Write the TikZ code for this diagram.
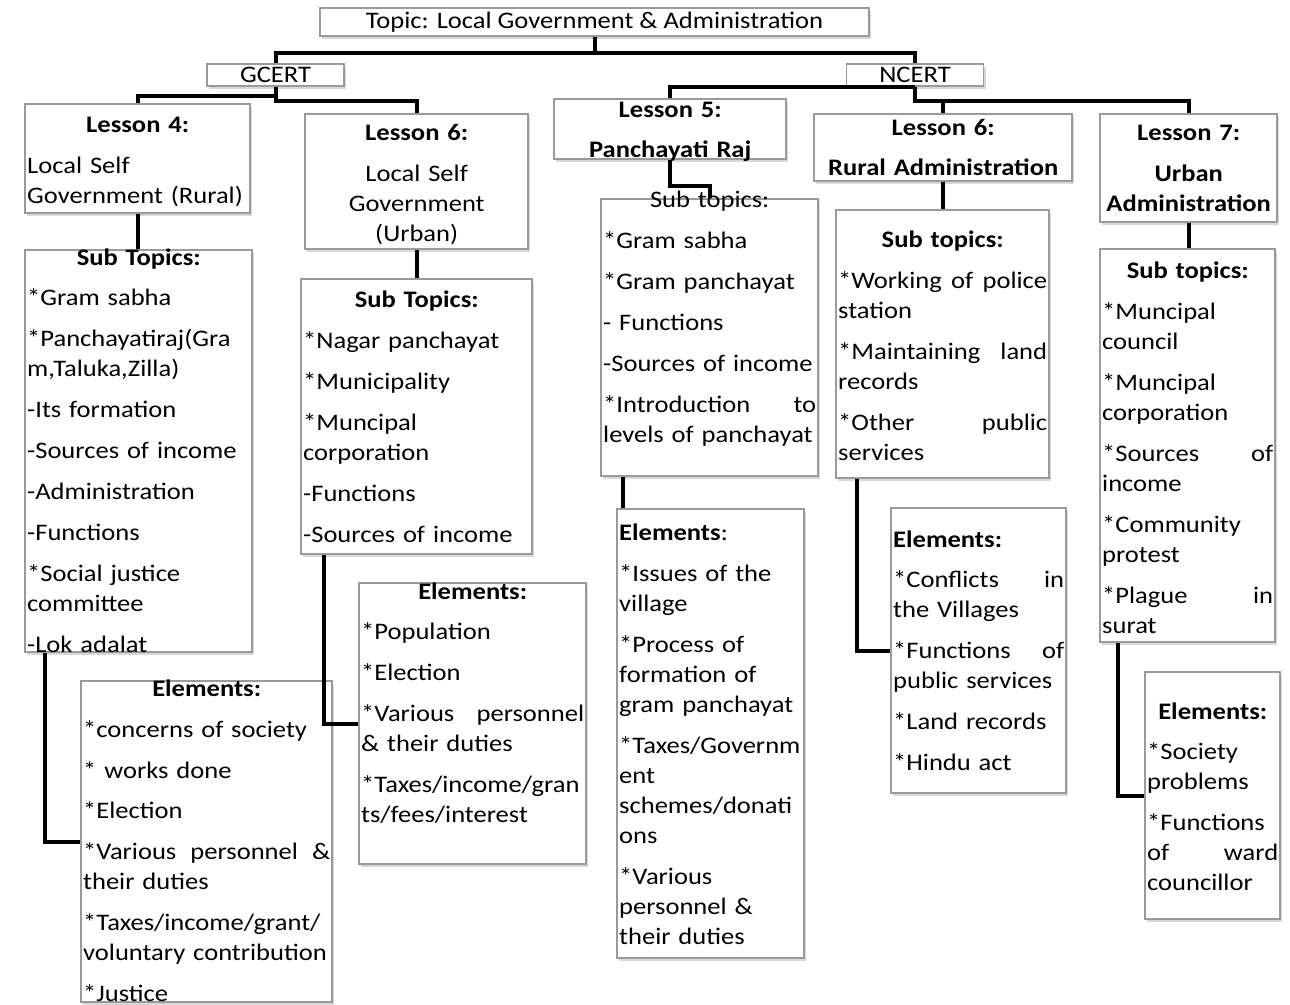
\documentclass[tikz,border=0pt]{standalone}
\usepackage{fontspec}
\setmainfont{Carlito}[FakeStretch=1.12]
\usetikzlibrary{positioning,shadows,calc}
\definecolor{ink}{HTML}{000000}
\definecolor{edge}{HTML}{9A9A9A}
\newcommand{\fs}{\fontsize{23.7}{30}\selectfont}
\newcommand{\hd}[1]{\makebox[\linewidth]{\bfseries #1}}
\newcommand{\jst}[1]{\makebox[\linewidth][s]{#1}}
% empty framed box from (x1,y1) to (x2,y2)
\newcommand{\panel}[5]{\node[box, minimum width={#4-#2}, minimum height={#5-#3}] (#1) at ({(#2+#4)/2},{(#3+#5)/2}) {};}

\begin{document}
\begin{tikzpicture}[
  x=1pt, y=-1pt,
  font=\fs,
  box/.style={draw=edge, fill=white, line width=1.1pt, inner sep=0pt,
    drop shadow={shadow xshift=2pt, shadow yshift=-2.5pt, opacity=0.3}},
  txt/.style={anchor=base west, inner sep=0pt, align=left, font=\fs},
  link/.style={draw=ink, line width=4pt}
]
\path[use as bounding box, fill=white] (0,0) rectangle (1290,1004);

% Top row
\node[box, minimum width=549, minimum height=28] (title) at (594.5,22) {Topic: Local Government \& Administration};
\node[box, minimum width=137, minimum height=22] (gc) at (275.5,75) {GCERT};
\node[box, minimum width=137, minimum height=22] (nc) at (915,75) {NCERT};

% Lessons
\panel{l4}{25}{104}{250}{213}
\panel{l6}{305}{114}{528}{249}
\panel{l5}{554}{99}{786}{159}
\panel{r6}{814}{114}{1072}{181}
\panel{l7}{1100}{114}{1277}{222}

% Sub topics
\panel{l4s}{25}{250}{252}{652}
\panel{l6s}{301}{279}{532}{554}
\panel{l5s}{601}{199}{818}{476}
\panel{r6s}{836}{210}{1049}{478}
\panel{l7s}{1100}{249}{1275}{642}

% Elements
\panel{l4e}{81}{681}{332}{1002}
\panel{l6e}{359}{583}{586}{864}
\panel{l5e}{617}{509}{804}{958}
\panel{r6e}{891}{508}{1066}{793}
\panel{l7e}{1145}{672}{1280}{919}

% Connectors
\draw[link] (title.south) -- ++(0,16) -| (gc.north);
\draw[link] (title.south) -- ++(0,16) -| (nc.north);
\draw[link] (gc.south) -- ++(0,9) -| (l4.north);
\draw[link] (gc.south) -- ++(0,14) -| (l6.north);
\draw[link] (nc.south) -| (l5.north);
\draw[link] (nc.south) -- ++(0,14) -| (r6.north);
\draw[link] (nc.south) -- ++(0,14) -| (l7.north);
\draw[link] (l4.south) -- (l4s.north -| l4.south);
\draw[link] (l6.south) -- (l6s.north -| l6.south);
\draw[link] (l5.south) -- ++(0,26) -| (l5s.north);
\draw[link] (r6.south) -- (r6s.north -| r6.south);
\draw[link] (l7.south) -- (l7s.north -| l7.south);
\coordinate (p4) at ([xshift=21pt]l4s.south west);
\coordinate (p6) at ([xshift=24pt]l6s.south west);
\coordinate (p5) at ([xshift=23pt]l5s.south west);
\coordinate (q6) at ([xshift=22pt]r6s.south west);
\coordinate (p7) at ([xshift=19pt]l7s.south west);
\draw[link] (p4) |- (l4e.west);
\draw[link] (p6) |- (l6e.west);
\draw[link] (p5) -- (p5 |- l5e.north);
\draw[link] (q6) |- (r6e.west);
\draw[link] (p7) |- (l7e.west);

% Texts: lessons
\node[txt, text width=221] (l4t) at (27,132) {\hd{Lesson 4:}\\[11pt] Local Self\\ Government (Rural)};
\node[txt, align=center, text width=219] (l6t) at (307,140) {\textbf{Lesson 6:}\\[11pt] Local Self\\ Government\\ (Urban)};
\node[txt, align=center, text width=228] (l5t) at (556,117) {\textbf{Lesson 5:}\\[10pt] \textbf{Panchayati Raj}};
\node[txt, align=center, text width=254] (r6t) at (816,135) {\textbf{Lesson 6:}\\[10pt] \textbf{Rural Administration}};
\node[txt, align=center, text width=173] (l7t) at (1102,140) {\textbf{Lesson 7:}\\[11pt] \textbf{Urban}\\ \textbf{Administration}};

% Texts: sub topics
\node[txt, text width=223] (l4st) at (27,265) {\hd{Sub Topics:}\\[10pt] *Gram sabha\\[11pt] *Panchayatiraj(Gra\\ m,Taluka,Zilla)\\[11pt] -Its formation\\[11pt] -Sources of income\\[11pt] -Administration\\[11pt] -Functions\\[11pt] *Social justice\\ committee\\[11pt] -Lok adalat};
\node[txt, text width=227] (l6st) at (303,307) {\hd{Sub Topics:}\\[11pt] *Nagar panchayat\\[11pt] *Municipality\\[11pt] *Muncipal\\ corporation\\[11pt] -Functions\\[11pt] -Sources of income};
\node[txt, text width=213] (l5st) at (603,207) {\makebox[\linewidth]{Sub topics:}\\[11pt] *Gram sabha\\[11pt] *Gram panchayat\\[11pt] - Functions\\[11pt] -Sources of income\\[11pt] \jst{*Introduction\hfill to}\\ levels of panchayat};
\node[txt, text width=209] (r6st) at (838,247) {\hd{Sub topics:}\\[11pt] \jst{*Working\hfill of\hfill police}\\ station\\[11pt] \jst{*Maintaining\hfill land}\\ records\\[11pt] \jst{*Other\hfill public}\\ services};
\node[txt, text width=171] (l7st) at (1102,278) {\hd{Sub topics:}\\[11pt] *Muncipal\\ council\\[11pt] *Muncipal\\ corporation\\[11pt] \jst{*Sources\hfill of}\\ income\\[11pt] *Community\\ protest\\[11pt] \jst{*Plague\hfill in}\\ surat};

% Texts: elements
\node[txt, text width=247] (l4et) at (83,696) {\hd{Elements:}\\[11pt] *concerns of society\\[11pt] * works done\\[10pt] *Election\\[11pt] \jst{*Various\hfill personnel\hfill \&}\\ their duties\\[11pt] *Taxes/income/grant/\\ voluntary contribution\\[11pt] *Justice};
\node[txt, text width=223] (l6et) at (361,599) {\hd{Elements:}\\[10pt] *Population\\[11pt] *Election\\[11pt] \jst{*Various\hfill personnel}\\ \& their duties\\[11pt] *Taxes/income/gran\\ ts/fees/interest};
\node[txt, text width=183] (l5et) at (619,540) {\textbf{Elements}:\\[11pt] *Issues of the\\ village\\[11pt] *Process of\\ formation of\\ gram panchayat\\[11pt] *Taxes/Governm\\ ent\\ schemes/donati\\ ons\\[11pt] *Various\\ personnel \&\\ their duties};
\node[txt, text width=171] (r6et) at (893,547) {\textbf{Elements:}\\[10pt] \jst{*Conflicts\hfill in}\\ the Villages\\[11pt] \jst{*Functions\hfill of}\\ public services\\[11pt] *Land records\\[11pt] *Hindu act};
\node[txt, text width=131] (l7et) at (1147,719) {\hd{Elements:}\\[10pt] *Society\\ problems\\[11pt] *Functions\\ \jst{of\hfill ward}\\ councillor};

\end{tikzpicture}
\end{document}
